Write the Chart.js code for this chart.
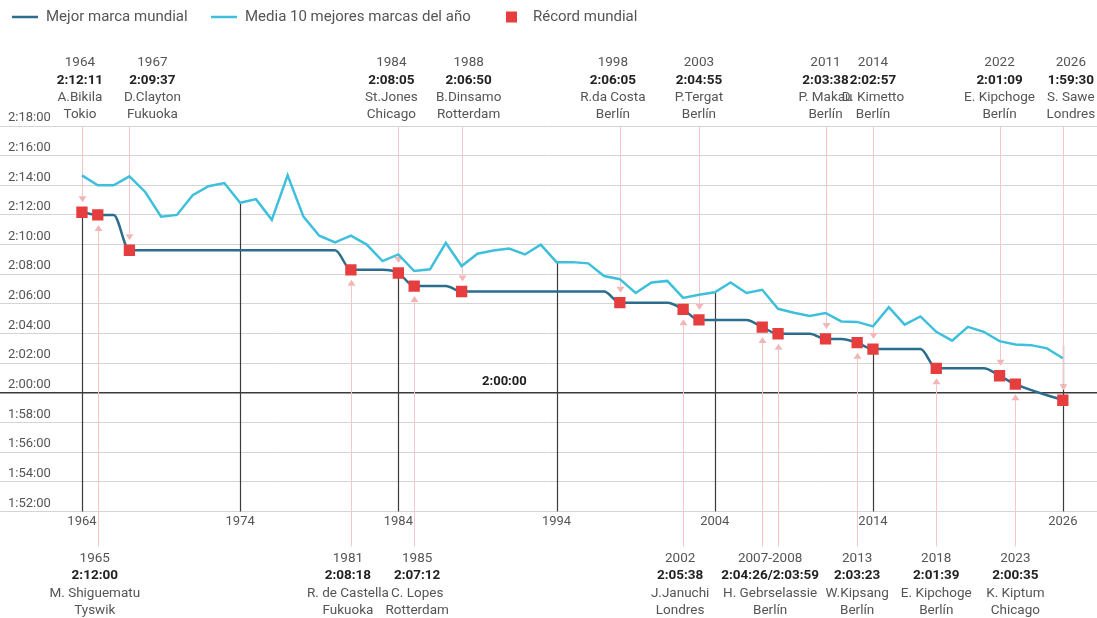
<!DOCTYPE html>
<html>
<head>
<meta charset="utf-8">
<script src="https://cdn.jsdelivr.net/npm/chart.js@4.4.0/dist/chart.umd.min.js"></script>
<style>
  body { margin: 0; background: #fff; }
  #wrap { width: 1097px; height: 618px; }
</style>
</head>
<body>
<div id="wrap"><canvas id="myChart"></canvas></div>
<script>
// media de las 10 mejores marcas de cada año
var avgYears = [1964, 1965, 1966, 1967, 1968, 1969, 1970, 1971, 1972, 1973,
    1974, 1975, 1976, 1977, 1978, 1979, 1980, 1981, 1982, 1983,
    1984, 1985, 1986, 1987, 1988, 1989, 1990, 1991, 1992, 1993,
    1994, 1995, 1996, 1997, 1998, 1999, 2000, 2001, 2002, 2003,
    2004, 2005, 2006, 2007, 2008, 2009, 2010, 2011, 2012, 2013,
    2014, 2015, 2016, 2017, 2018, 2019, 2020, 2021, 2022, 2023,
    2024, 2025, 2026];
var avgTimes = ['2:14:40', '2:14:00', '2:14:00', '2:14:36', '2:13:33', '2:11:53', '2:12:00', '2:13:20', '2:13:56', '2:14:09',
    '2:12:49', '2:13:04', '2:11:40', '2:14:40', '2:11:53', '2:10:36', '2:10:09', '2:10:36', '2:10:00', '2:08:53',
    '2:09:20', '2:08:13', '2:08:20', '2:10:07', '2:08:33', '2:09:23', '2:09:36', '2:09:44', '2:09:20', '2:10:00',
    '2:08:49', '2:08:49', '2:08:44', '2:07:53', '2:07:40', '2:06:44', '2:07:27', '2:07:33', '2:06:24', '2:06:37',
    '2:06:47', '2:07:27', '2:06:44', '2:06:57', '2:05:40', '2:05:24', '2:05:11', '2:05:23', '2:04:49', '2:04:47',
    '2:04:29', '2:05:47', '2:04:36', '2:05:09', '2:04:07', '2:03:31', '2:04:27', '2:04:07', '2:03:29', '2:03:16',
    '2:03:13', '2:03:00', '2:02:20'];

// mejor marca vigente cada año
var bestYears = [1964, 1965, 1966, 1967, 1968, 1969, 1970, 1971, 1972, 1973,
    1974, 1975, 1976, 1977, 1978, 1979, 1980, 1981, 1982, 1983,
    1984, 1985, 1986, 1987, 1988, 1989, 1990, 1991, 1992, 1993,
    1994, 1995, 1996, 1997, 1998, 1999, 2000, 2001, 2002, 2003,
    2004, 2005, 2006, 2007, 2008, 2009, 2010, 2011, 2012, 2013,
    2014, 2015, 2016, 2017, 2018, 2019, 2020, 2021, 2022, 2023,
    2026];
var bestTimes = ['2:12:11', '2:12:00', '2:12:00', '2:09:37', '2:09:37', '2:09:37', '2:09:37', '2:09:37', '2:09:37', '2:09:37',
    '2:09:37', '2:09:37', '2:09:37', '2:09:37', '2:09:37', '2:09:37', '2:09:37', '2:08:18', '2:08:18', '2:08:18',
    '2:08:05', '2:07:12', '2:07:12', '2:07:12', '2:06:50', '2:06:50', '2:06:50', '2:06:50', '2:06:50', '2:06:50',
    '2:06:50', '2:06:50', '2:06:50', '2:06:50', '2:06:05', '2:06:05', '2:06:05', '2:06:05', '2:05:38', '2:04:55',
    '2:04:55', '2:04:55', '2:04:55', '2:04:26', '2:03:59', '2:03:59', '2:03:59', '2:03:38', '2:03:38', '2:03:23',
    '2:02:57', '2:02:57', '2:02:57', '2:02:57', '2:01:39', '2:01:39', '2:01:39', '2:01:39', '2:01:09', '2:00:35',
    '1:59:30'];

// récords mundiales (t = flecha desde arriba, b = desde abajo)
var recYears = [1964, 1965, 1967, 1981, 1984, 1985, 1988, 1998, 2002, 2003, 2007, 2008, 2011, 2013, 2014, 2018, 2022, 2023, 2026];
var recTimes = ['2:12:11', '2:12:00', '2:09:37', '2:08:18', '2:08:05', '2:07:12', '2:06:50', '2:06:05', '2:05:38', '2:04:55',
    '2:04:26', '2:03:59', '2:03:38', '2:03:23', '2:02:57', '2:01:39', '2:01:09', '2:00:35', '1:59:30'];
var recSide = ['t', 'b', 't', 'b', 't', 'b', 't', 't', 'b', 't', 'b', 'b', 't', 'b', 't', 'b', 't', 'b', 't'];

// etiquetas de los récords
var noteAt = [1964, 1967, 1984, 1988, 1998, 2003, 2011, 2014, 2022, 2026, 1965, 1981, 1985, 2002, 2007.5, 2013, 2018, 2023];
var noteSide = ['t', 't', 't', 't', 't', 't', 't', 't', 't', 't', 'b', 'b', 'b', 'b', 'b', 'b', 'b', 'b'];
var noteYear = ['1964', '1967', '1984', '1988', '1998', '2003', '2011', '2014', '2022', '2026',
    '1965', '1981', '1985', '2002', '2007-2008', '2013', '2018', '2023'];
var noteTime = ['2:12:11', '2:09:37', '2:08:05', '2:06:50', '2:06:05', '2:04:55', '2:03:38', '2:02:57', '2:01:09', '1:59:30',
    '2:12:00', '2:08:18', '2:07:12', '2:05:38', '2:04:26/2:03:59', '2:03:23', '2:01:39', '2:00:35'];
var noteName = ['A.Bikila', 'D.Clayton', 'St.Jones', 'B.Dinsamo', 'R.da Costa', 'P.Tergat', 'P. Makau', 'D. Kimetto', 'E. Kipchoge', 'S. Sawe',
    'M. Shiguematu', 'R. de Castella', 'C. Lopes', 'J.Januchi', 'H. Gebrselassie', 'W.Kipsang', 'E. Kipchoge', 'K. Kiptum'];
var noteCity = ['Tokio', 'Fukuoka', 'Chicago', 'Rotterdam', 'Berlín', 'Berlín', 'Berlín', 'Berlín', 'Berlín', 'Londres',
    'Tyswik', 'Fukuoka', 'Rotterdam', 'Londres', 'Berlín', 'Berlín', 'Berlín', 'Chicago'];

// eje x y líneas verticales oscuras
var tickYears = [1964, 1974, 1984, 1994, 2004, 2014, 2026];
var tickLineTop = ['2:12:11', '2:12:49', '2:08:05', '2:08:49', '2:06:47', '2:02:57', '2:03:12'];
var benchTime = '2:00:00';
var benchAt = 1990.7;

var chart;
var FONT = 'Roboto, "Liberation Sans", sans-serif';
// pequeños desplazamientos de texto para que no se pisen (px)
var NUDGE = { '1964': -2, '1967': 23, '1984': -7, '1988': 7, '1998': -7, '2026': 8, '1965': -3, '1981': -3, '1985': 3, '2002': -3 };

function to_sec(t) {
    let p = t.split(':').map(Number);
    return p[0] * 3600 + p[1] * 60 + p[2];
}
function fmt_time(s) {
    let h = Math.floor(s / 3600);
    let m = Math.floor((s % 3600) / 60);
    let sec = s % 60;
    return h + ':' + String(m).padStart(2, '0') + ':' + String(sec).padStart(2, '0');
}
function pairs(xs, ts) {
    return xs.map((x, i) => ({ x: x, y: to_sec(ts[i]) }));
}

const marcas = {
    id: 'marcas',
    beforeDatasetsDraw(chart) {
        const ctx = chart.ctx;
        const xs = chart.scales.x, ys = chart.scales.y;
        const area = chart.chartArea;
        ctx.save();
        // lineas oscuras en los años del eje
        ctx.strokeStyle = '#3b3b3b';
        ctx.lineWidth = 1.2;
        tickYears.forEach((yr, i) => {
            let x = Math.round(xs.getPixelForValue(yr)) + 0.5;
            ctx.beginPath();
            ctx.moveTo(x, ys.getPixelForValue(to_sec(tickLineTop[i])));
            ctx.lineTo(x, area.bottom);
            ctx.stroke();
        });
        // lineas rosas con flecha hacia cada récord
        recYears.forEach((yr, i) => {
            let x = Math.round(xs.getPixelForValue(yr)) + 0.5;
            let y = ys.getPixelForValue(to_sec(recTimes[i]));
            let dir = recSide[i] === 't' ? -1 : 1;
            let tip = y + dir * 10;
            let base = y + dir * 16;
            ctx.strokeStyle = '#f4c6c6';
            ctx.lineWidth = 1;
            ctx.beginPath();
            ctx.moveTo(x, dir < 0 ? area.top : area.bottom + 35);
            ctx.lineTo(x, base);
            ctx.stroke();
            ctx.fillStyle = '#f3b6b6';
            ctx.beginPath();
            ctx.moveTo(x, tip);
            ctx.lineTo(x - 4, base);
            ctx.lineTo(x + 4, base);
            ctx.closePath();
            ctx.fill();
        });
        ctx.restore();
    },
    afterDraw(chart) {
        const ctx = chart.ctx;
        const xs = chart.scales.x, ys = chart.scales.y;
        const area = chart.chartArea;
        const ds = chart.data.datasets;
        ctx.save();
        // leyenda
        ctx.textBaseline = 'middle';
        ctx.textAlign = 'left';
        ctx.font = '15px ' + FONT;
        [12, 211].forEach((lx, i) => {
            ctx.strokeStyle = ds[i].borderColor;
            ctx.lineWidth = 2.5;
            ctx.beginPath();
            ctx.moveTo(lx, 17);
            ctx.lineTo(lx + 26, 17);
            ctx.stroke();
            ctx.fillStyle = '#555';
            ctx.fillText(ds[i].label, lx + 34, 17.5);
        });
        ctx.fillStyle = ds[2].backgroundColor;
        ctx.fillRect(506, 11.5, 11, 11);
        ctx.fillStyle = '#555';
        ctx.fillText(ds[2].label, 533, 17.5);

        ctx.textAlign = 'center';
        // etiqueta 2:00:00
        ctx.font = 'bold 13px ' + FONT;
        ctx.fillStyle = '#222';
        ctx.fillText(benchTime, xs.getPixelForValue(benchAt), ys.getPixelForValue(to_sec(benchTime)) - 11);
        // textos de los récords
        noteAt.forEach((yr, i) => {
            let x = xs.getPixelForValue(yr) + (NUDGE[noteYear[i]] || 0);
            let y0 = noteSide[i] === 't' ? area.top - 63 : area.bottom + 47;
            ctx.font = '13.5px ' + FONT;
            ctx.fillStyle = '#555';
            ctx.fillText(noteYear[i], x, y0);
            ctx.font = 'bold 13.5px ' + FONT;
            ctx.fillStyle = '#222';
            ctx.fillText(noteTime[i], x, y0 + 17.5);
            ctx.font = '13.5px ' + FONT;
            ctx.fillStyle = '#555';
            ctx.fillText(noteName[i], x, y0 + 35);
            ctx.fillText(noteCity[i], x, y0 + 52);
        });
        ctx.restore();
    }
};

function draw_plot() {
    var ctx = document.getElementById('myChart');
    chart = new Chart(ctx, {
        type: 'line',
        data: {
            datasets: [
                {
                    label: 'Mejor marca mundial',
                    data: pairs(bestYears, bestTimes),
                    borderColor: '#2b6d8c',
                    backgroundColor: '#2b6d8c',
                    borderWidth: 2.5,
                    pointRadius: 0,
                    cubicInterpolationMode: 'monotone',
                    order: 1,
                },
                {
                    label: 'Media 10 mejores marcas del año',
                    data: pairs(avgYears, avgTimes),
                    borderColor: '#3ec0dc',
                    backgroundColor: '#3ec0dc',
                    borderWidth: 2.5,
                    pointRadius: 0,
                    tension: 0,
                    order: 2,
                },
                {
                    label: 'Récord mundial',
                    data: pairs(recYears, recTimes),
                    showLine: false,
                    pointStyle: 'rect',
                    pointRadius: 8,
                    pointHoverRadius: 8,
                    backgroundColor: '#e63e3e',
                    borderColor: '#e63e3e',
                    borderWidth: 0,
                    order: 0,
                },
            ],
        },
        options: {
            responsive: true,
            maintainAspectRatio: false,
            animation: false,
            layout: { autoPadding: false, padding: { top: 126, left: 0, right: 0, bottom: 85 } },
            scales: {
                x: {
                    type: 'linear',
                    min: 1958.82,
                    max: 2028.16,
                    afterBuildTicks: (scale) => {
                        scale.ticks = tickYears.map((v) => ({ value: v }));
                    },
                    afterFit: (scale) => {
                        scale.paddingLeft = 0;
                        scale.paddingRight = 0;
                    },
                    grid: { display: false, drawTicks: false },
                    border: { display: false },
                    ticks: {
                        padding: 3,
                        color: '#555',
                        font: { family: FONT, size: 13 },
                        callback: (v) => String(v),
                        maxRotation: 0,
                        autoSkip: false,
                    },
                },
                y: {
                    min: 6720,
                    max: 8280,
                    afterFit: (scale) => {
                        scale.width = 0;
                        scale.paddingTop = 0;
                        scale.paddingBottom = 0;
                    },
                    grid: {
                        drawTicks: false,
                        color: (c) => (c.tick && c.tick.value === 7200 ? '#3a3a3a' : '#d4d4d4'),
                        lineWidth: (c) => (c.tick && c.tick.value === 7200 ? 1.6 : 1),
                    },
                    border: { display: false },
                    ticks: {
                        stepSize: 120,
                        mirror: true,
                        padding: 8,
                        labelOffset: -8,
                        color: '#555',
                        font: { family: FONT, size: 13 },
                        callback: (v) => fmt_time(v),
                    },
                },
            },
            plugins: {
                legend: { display: false },
                tooltip: { enabled: false },
            },
        },
        plugins: [marcas],
    });
}
draw_plot();
</script>
</body>
</html>
